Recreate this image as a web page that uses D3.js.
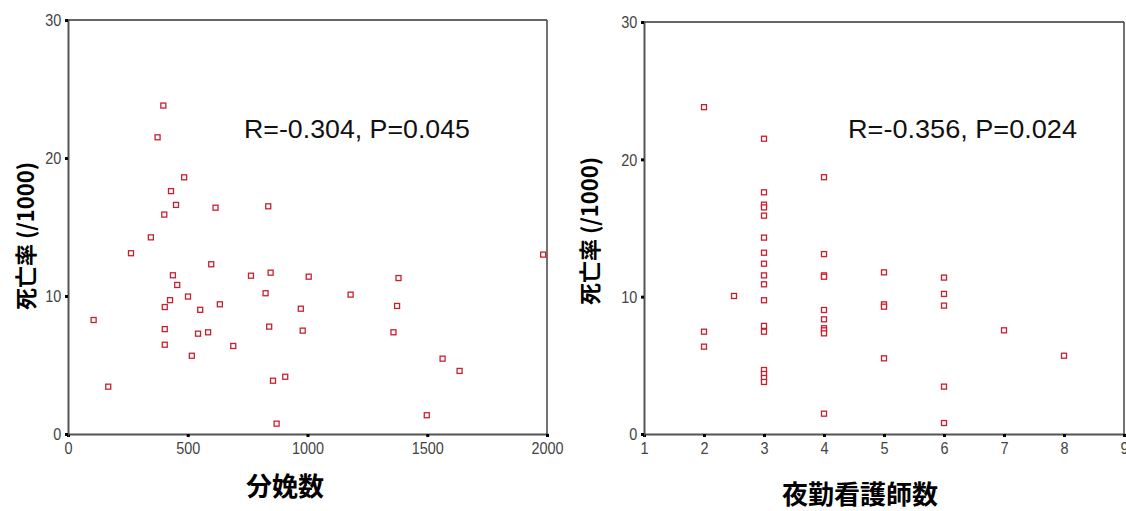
<!DOCTYPE html>
<html><head><meta charset="utf-8">
<script src="https://cdn.jsdelivr.net/npm/d3@7"></script>
<style>
body{margin:0;background:#fff;}
svg{display:block;}
</style></head>
<body>
<svg id="c" width="1126" height="511"></svg>
<script>
// Left chart: 分娩数 vs 死亡率
const birthsX = [398,374,485,430,451,402,616,836,346,263,598,438,456,501,426,404,552,634,107,404,543,585,404,690,517,168,764,846,825,840,856,907,871,1005,972,980,1180,1380,1374,1359,1564,1635,1498,1984];
const birthsY = [23.8,21.5,18.6,17.6,16.6,15.9,16.4,16.5,14.25,13.1,12.3,11.5,10.8,9.96,9.7,9.2,9.0,9.4,8.26,7.6,7.27,7.37,6.47,6.38,5.67,3.43,11.47,11.69,10.2,7.78,3.86,4.15,0.75,11.4,9.08,7.49,10.1,11.3,9.28,7.37,5.46,4.57,1.36,13.0];
// Right chart: 夜勤看護師数 vs 死亡率
const nursesX = [2,2,2,2.5,3,3,3,3,3,3,3,3,3,3,3,3,3,3,3,3,3,4,4,4,4,4,4,4,4,4,4,5,5,5,5,6,6,6,6,6,7,8];
const nursesY = [23.8,7.45,6.36,10.05,21.5,17.6,16.7,16.5,15.9,14.3,13.2,12.4,11.55,10.9,9.74,7.87,7.45,4.66,4.37,4.08,3.79,18.7,13.1,11.55,11.45,9.03,8.35,7.7,7.55,7.33,1.48,11.77,9.44,9.27,5.51,11.39,10.2,9.35,3.45,0.8,7.55,5.7];
const yTicks = [0,10,20,30];
const leftXTicks = [0,500,1000,1500,2000];
const rightXTicks = [1,2,3,4,5,6,7,8,9];
const yTitle = "死亡率 (/1000)";
const leftXTitle = "分娩数";
const rightXTitle = "夜勤看護師数";
const leftStat = "R=-0.304, P=0.045";
const rightStat = "R=-0.356, P=0.024";

const svg = d3.select("#c");
const tickFont = "'Liberation Sans',Arial,sans-serif";
const cjk = "'Noto Sans CJK JP','Noto Sans CJK SC',sans-serif";

function panel(opt){
  const x = d3.scaleLinear().domain(opt.xDomain).range(opt.xRange);
  const y = d3.scaleLinear().domain([0,30]).range(opt.yRange);
  const g = svg.append("g");
  // frame top/right
  g.append("line").attr("x1",x.range()[0]).attr("x2",x.range()[1]).attr("y1",y(30)).attr("y2",y(30)).attr("stroke","#333").attr("stroke-width",1.5);
  g.append("line").attr("x1",x.range()[1]).attr("x2",x.range()[1]).attr("y1",y(30)).attr("y2",y(0)).attr("stroke","#444").attr("stroke-width",1.5);
  // axes
  const ax = g.append("g").attr("transform",`translate(0,${y(0)})`)
    .call(d3.axisBottom(x).tickValues(opt.xTicks).tickSize(3).tickPadding(0).tickFormat(d3.format("d")));
  const ay = g.append("g").attr("transform",`translate(${x.range()[0]},0)`)
    .call(d3.axisLeft(y).tickValues(yTicks).tickSize(3).tickPadding(4).tickFormat(d3.format("d")));
  [ax,ay].forEach(a=>{
    a.select(".domain").attr("stroke","#555").attr("stroke-width",2);
    a.selectAll(".tick line").attr("stroke","#000").attr("stroke-width",3);
    a.selectAll(".tick text").attr("fill","#444").style("font-family",tickFont).style("font-size","17px")
      .attr("transform","scale(0.85,1)");
  });
  ax.selectAll(".tick text").attr("y",8).attr("dy","0.71em");
  ay.selectAll(".tick text").attr("x",-8).attr("dy","0.35em");
  // points
  g.selectAll("rect.pt").data(opt.xs.map((v,i)=>[v,opt.ys[i]])).join("rect")
    .attr("class","pt")
    .attr("x",d=>x(d[0])-2.5).attr("y",d=>y(d[1])-2.5)
    .attr("width",5).attr("height",5)
    .attr("fill","#fff").attr("stroke","#c8202f").attr("stroke-width",1.3);
  // titles
  g.append("text").attr("transform",`translate(${opt.yTitleX},${opt.yTitleY}) rotate(-90)`)
    .attr("text-anchor","middle").attr("dy","0.35em")
    .style("font-family",cjk).style("font-weight","bold").style("font-size","22px").attr("fill","#000")
    .text(yTitle);
  g.append("text").attr("x",opt.xTitleX).attr("y",opt.xTitleY).attr("text-anchor","middle")
    .style("font-family",cjk).style("font-weight","bold").style("font-size","26px").attr("fill","#000")
    .text(opt.xTitle);
  g.append("text").attr("x",opt.statX).attr("y",138)
    .style("font-family","'Liberation Sans',Arial,sans-serif").style("font-size","25px").attr("fill","#111")
    .attr("textLength",opt.statW).attr("lengthAdjust","spacingAndGlyphs")
    .text(opt.stat);
}

panel({xDomain:[0,2000],xRange:[68,547],yRange:[434,20],xTicks:leftXTicks,xs:birthsX,ys:birthsY,
  yTitleX:26,yTitleY:236,xTitle:leftXTitle,xTitleX:285,xTitleY:496,stat:leftStat,statX:244,statW:226});
panel({xDomain:[1,9],xRange:[644,1124],yRange:[434,22],xTicks:rightXTicks,xs:nursesX,ys:nursesY,
  yTitleX:590,yTitleY:231,xTitle:rightXTitle,xTitleX:860,xTitleY:504,stat:rightStat,statX:848,statW:229});
</script>
</body></html>
